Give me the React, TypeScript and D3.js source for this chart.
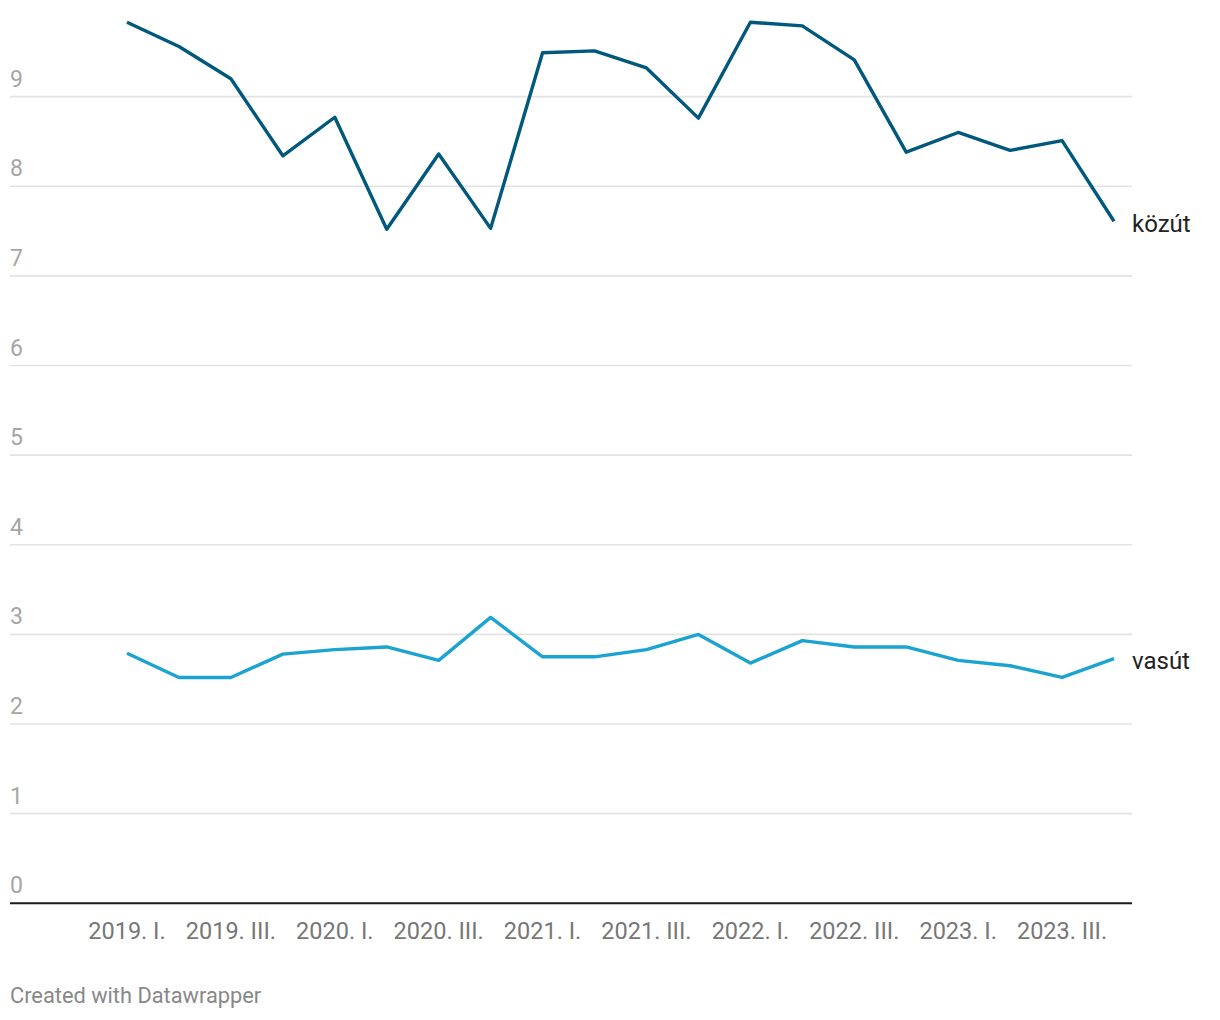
import * as d3 from 'd3';
import { useEffect, useRef } from 'react';

// Quarters, 2019 I. to 2023 IV.
const quarters = [
  '2019. I.', '2019. II.', '2019. III.', '2019. IV.',
  '2020. I.', '2020. II.', '2020. III.', '2020. IV.',
  '2021. I.', '2021. II.', '2021. III.', '2021. IV.',
  '2022. I.', '2022. II.', '2022. III.', '2022. IV.',
  '2023. I.', '2023. II.', '2023. III.', '2023. IV.',
];

const kozut = [
  9.83, 9.56, 9.2, 8.34, 8.77, 7.52, 8.36, 7.53, 9.49, 9.51,
  9.32, 8.76, 9.83, 9.79, 9.41, 8.38, 8.6, 8.4, 8.51, 7.61,
];

const vasut = [
  2.79, 2.52, 2.52, 2.78, 2.83, 2.86, 2.71, 3.19, 2.75, 2.75,
  2.83, 3.0, 2.68, 2.93, 2.86, 2.86, 2.71, 2.65, 2.52, 2.73,
];

const yTicks = [0, 1, 2, 3, 4, 5, 6, 7, 8, 9];
const xTickLabels = [
  '2019. I.', '2019. III.', '2020. I.', '2020. III.', '2021. I.',
  '2021. III.', '2022. I.', '2022. III.', '2023. I.', '2023. III.',
];

const series = [
  { name: 'közút', values: kozut, color: '#00587d' },
  { name: 'vasút', values: vasut, color: '#1ba3d1' },
];

export default function App() {
  const chartRef = useRef(null);

  // Define dimensions
  const width = 1220;
  const height = 1020;
  const plot = { left: 10, right: 1132, top: 7, bottom: 903.3 };
  const font = 'Roboto, sans-serif';

  useEffect(() => {
    const svg = d3.select(chartRef.current);
    svg.selectAll('*').remove();

    // Scales
    const xScale = d3.scalePoint().domain(quarters).range([127, 1114]);
    const yScale = d3.scaleLinear().domain([0, 10]).range([plot.bottom, plot.top]);

    // Gridlines and y labels
    const grid = svg.append('g');
    grid
      .selectAll('line')
      .data(yTicks.filter((t) => t > 0))
      .enter()
      .append('line')
      .attr('x1', plot.left)
      .attr('x2', plot.right)
      .attr('y1', (d) => yScale(d))
      .attr('y2', (d) => yScale(d))
      .style('stroke', '#e3e3e3')
      .style('stroke-width', 1.6);

    grid
      .selectAll('text')
      .data(yTicks)
      .enter()
      .append('text')
      .text((d) => d)
      .attr('x', plot.left)
      .attr('y', (d) => yScale(d) - 10)
      .style('fill', '#a6a6a6')
      .style('font-family', font)
      .style('font-size', '23px');

    // Baseline
    svg
      .append('line')
      .attr('x1', plot.left)
      .attr('x2', plot.right)
      .attr('y1', yScale(0))
      .attr('y2', yScale(0))
      .style('stroke', '#1a1a1a')
      .style('stroke-width', 2);

    // X labels
    svg
      .append('g')
      .selectAll('text')
      .data(xTickLabels)
      .enter()
      .append('text')
      .text((d) => d)
      .attr('x', (d) => xScale(d))
      .attr('y', 938.5)
      .attr('text-anchor', 'middle')
      .style('fill', '#777')
      .style('font-family', font)
      .style('font-size', '23.5px');

    // Lines
    const line = d3
      .line<number>()
      .x((d, i) => xScale(quarters[i]))
      .y((d) => yScale(d));

    series.forEach((s) => {
      svg
        .append('path')
        .attr('d', line(s.values))
        .style('fill', 'none')
        .style('stroke', s.color)
        .style('stroke-width', 3.4)
        .style('stroke-linejoin', 'round');

      // Label at line end
      const last = s.values[s.values.length - 1];
      svg
        .append('text')
        .text(s.name)
        .attr('x', plot.right)
        .attr('y', yScale(last) + 2)
        .attr('dy', '0.35em')
        .style('fill', '#222')
        .style('font-family', font)
        .style('font-size', '24px');
    });

    // Footer
    svg
      .append('text')
      .text('Created with Datawrapper')
      .attr('x', 10)
      .attr('y', 1003)
      .style('fill', '#888')
      .style('font-family', font)
      .style('font-size', '21.8px');
  }, []);

  return (
    <svg
      width={width}
      height={height}
      ref={chartRef}
      style={{ position: 'absolute', left: 0, top: 0, background: '#fff' }}
    />
  );
}
